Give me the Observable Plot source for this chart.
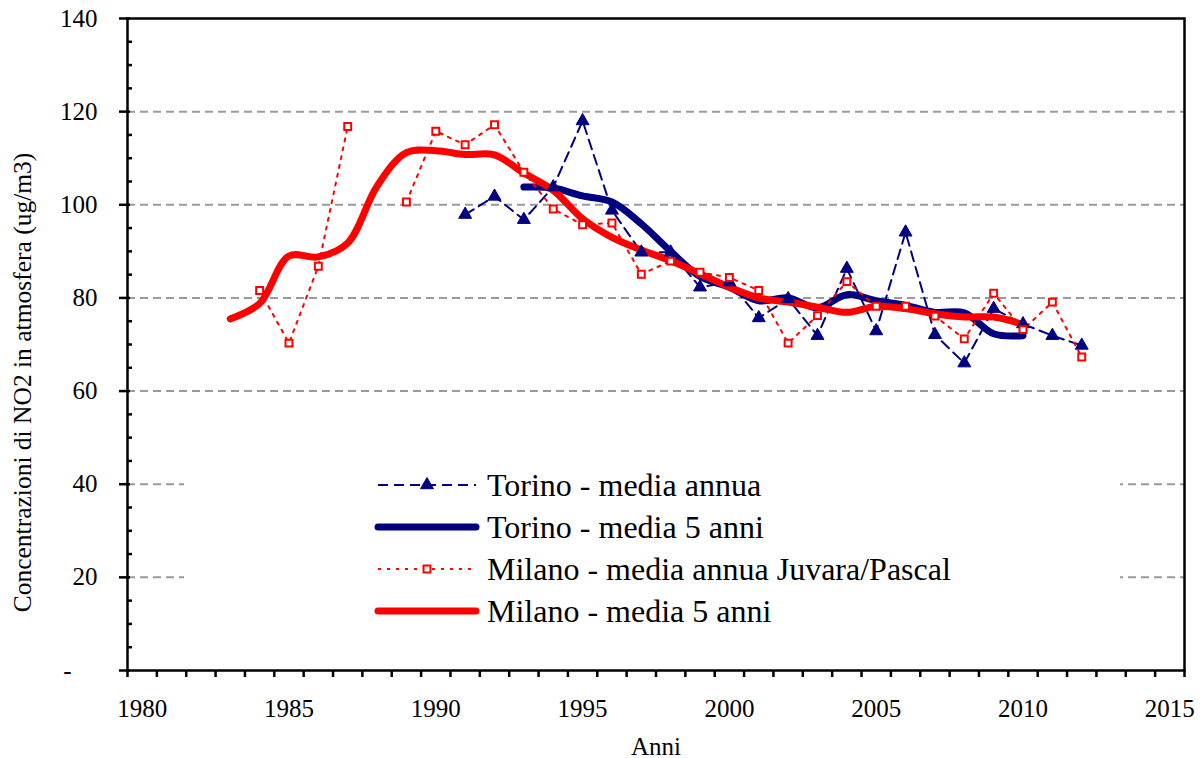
<!DOCTYPE html>
<html><head><meta charset="utf-8">
<script src="https://cdn.jsdelivr.net/npm/d3@7"></script>
<script src="https://cdn.jsdelivr.net/npm/@observablehq/plot@0.6"></script>
<style>body{margin:0;background:#fff}</style>
</head><body><div id="chart"></div>
<script>
const navy = "#000080", red = "#ff0000";
const font = "'Liberation Serif','Times New Roman',serif";

// Torino - media annua (1991-2012)
const torinoAnnualYears = d3.range(1991, 2013);
const torinoAnnual = [97.9, 101.8, 96.8, 103.8, 118.0, 98.8, 89.8, 89.8, 82.3, 83.4, 75.7, 79.8, 71.9, 86.3, 72.9, 94.1, 72.1, 66.0, 77.7, 74.4, 71.9, 69.8];
// Torino - media 5 anni (1993-2010)
const torino5Years = d3.range(1993, 2011);
const torino5 = [103.8, 103.6, 101.9, 100.6, 95.9, 90.0, 84.6, 82.3, 79.4, 80.0, 77.9, 80.7, 79.4, 78.4, 76.9, 76.8, 72.3, 71.9];
// Milano - media annua Juvara/Pascal (1984-2012, 1988 missing)
const milanoAnnualYears = d3.range(1984, 2013);
const milanoAnnual = [81.6, 70.3, 86.8, 116.8, null, 100.6, 115.8, 112.9, 117.2, 107.0, 99.1, 95.7, 96.1, 85.1, 87.9, 85.5, 84.4, 81.6, 70.3, 76.2, 83.5, 78.2, 78.2, 76.1, 71.2, 81.0, 73.2, 79.1, 67.3];
// Milano - media 5 anni (1983-2010)
const milano5Years = d3.range(1983, 2011);
const milano5 = [75.5, 78.8, 89.0, 88.8, 91.8, 104.0, 111.2, 111.6, 110.8, 110.7, 106.8, 103.1, 97.0, 93.0, 90.3, 88.0, 85.2, 82.3, 80.0, 79.1, 78.0, 76.9, 78.2, 77.7, 76.6, 75.9, 75.9, 74.3];

const xLabelTicks = d3.range(1980, 2016, 5);
const yLabelTicks = [20, 40, 60, 80, 100, 120, 140];
const gridValues = [20, 40, 60, 80, 100, 120];
const yTitle = "Concentrazioni di NO2 in atmosfera (ug/m3)";
const xTitle = "Anni";

const legendItems = [
  {label: "Torino - media annua", color: navy, width: 2, dash: "10,6", marker: "triangle"},
  {label: "Torino - media 5 anni", color: navy, width: 7, dash: null, marker: null},
  {label: "Milano - media annua Juvara/Pascal", color: red, width: 2, dash: "3,6", marker: "square"},
  {label: "Milano - media 5 anni", color: red, width: 7, dash: null, marker: null}
];

const ta = torinoAnnualYears.map((x, i) => ({x, y: torinoAnnual[i]}));
const t5 = torino5Years.map((x, i) => ({x, y: torino5[i]}));
const ma = milanoAnnualYears.map((x, i) => ({x, y: milanoAnnual[i]}));
const m5 = milano5Years.map((x, i) => ({x, y: milano5[i]}));

const xBoundaries = d3.range(1979.5, 2016, 1);
const yMinor = d3.range(5, 140, 5).filter(d => d % 20 !== 0);
const yMajor = d3.range(0, 141, 20);
const triR = 4.8, sqR = 3.9;

const plot = Plot.plot({
  width: 1202, height: 758,
  marginLeft: 127, marginRight: 18, marginTop: 18, marginBottom: 88,
  style: {fontFamily: font, fontSize: "24px", background: "white", color: "black"},
  x: {domain: [1979.5, 2015.5]},
  y: {domain: [0, 140]},
  marks: [
    Plot.gridY(gridValues, {stroke: "#9a9a9a", strokeOpacity: 1, strokeWidth: 2, strokeDasharray: "8,5"}),
    Plot.frame({stroke: "black", strokeWidth: 2.5}),
    Plot.axisX(xBoundaries, {tickSize: 7, tickFormat: () => "", label: null, strokeWidth: 2.5}),
    Plot.axisX(xLabelTicks, {tickSize: 0, tickPadding: 29, tickFormat: d => String(d), fontFamily: font, fontSize: 25,
      label: xTitle, labelAnchor: "center", labelArrow: "none", labelOffset: 84}),
    Plot.axisY(yMajor, {tickSize: 11, dx: 3, tickFormat: () => "", label: null, strokeWidth: 2.5}),
    Plot.axisY(yMinor, {tickSize: -5, tickFormat: () => "", label: null, strokeWidth: 2.5}),
    Plot.axisY(yLabelTicks, {tickSize: 0, tickPadding: 30, tickFormat: d => String(d), fontFamily: font, fontSize: 25, label: null}),
    Plot.axisY([0], {tickSize: 0, tickPadding: 56, tickFormat: () => "-", fontFamily: font, fontSize: 25, label: null}),
    Plot.text([yTitle], {text: d => d, frameAnchor: "left", textAnchor: "middle", rotate: -90, dx: -105, dy: 38, fontFamily: font, fontSize: 25.5, fill: "black"}),
    Plot.line(ta, {x: "x", y: "y", stroke: navy, strokeWidth: 2, strokeDasharray: "10,6"}),
    Plot.line(t5, {x: "x", y: "y", stroke: navy, strokeWidth: 7, curve: "catmull-rom", strokeLinecap: "round"}),
    Plot.line(ma, {x: "x", y: "y", stroke: red, strokeWidth: 2, strokeDasharray: "3,6"}),
    Plot.line(m5, {x: "x", y: "y", stroke: red, strokeWidth: 7, curve: "catmull-rom", strokeLinecap: "round"}),
    Plot.dot(ta, {x: "x", y: "y", symbol: "triangle", r: triR, fill: navy, stroke: navy, strokeWidth: 1}),
    Plot.dot(ma.filter(d => d.y != null), {x: "x", y: "y", symbol: "square", r: sqR, fill: "white", stroke: red, strokeWidth: 2})
  ]
});

// Legend drawn inside the SVG (white box hides gridlines behind it)
const svg = d3.select(plot);
const lg = svg.append("g").attr("font-family", font).attr("text-anchor", "start");
lg.append("rect").attr("x", 184).attr("y", 440).attr("width", 936).attr("height", 210).attr("fill", "white");
const x1 = 378, x2 = 476, tx = 487, y0 = 485, dy = 42;
legendItems.forEach((d, i) => {
  const cy = y0 + i * dy;
  lg.append("line").attr("x1", x1).attr("x2", x2).attr("y1", cy).attr("y2", cy)
    .attr("stroke", d.color).attr("stroke-width", d.width)
    .attr("stroke-dasharray", d.dash).attr("stroke-linecap", d.dash ? null : "round");
  if (d.marker === "triangle") {
    lg.append("path").attr("d", d3.symbol(d3.symbolTriangle, Math.PI * triR * triR)())
      .attr("transform", `translate(${(x1 + x2) / 2},${cy})`).attr("fill", d.color).attr("stroke", d.color);
  } else if (d.marker === "square") {
    lg.append("path").attr("d", d3.symbol(d3.symbolSquare, Math.PI * sqR * sqR)())
      .attr("transform", `translate(${(x1 + x2) / 2},${cy})`).attr("fill", "white").attr("stroke", d.color).attr("stroke-width", 2);
  }
  lg.append("text").attr("x", tx).attr("y", cy).attr("dy", "0.35em")
    .attr("font-size", 32).attr("fill", "black").attr("text-anchor", "start").text(d.label);
});

document.getElementById("chart").appendChild(plot);
</script>
</body></html>
